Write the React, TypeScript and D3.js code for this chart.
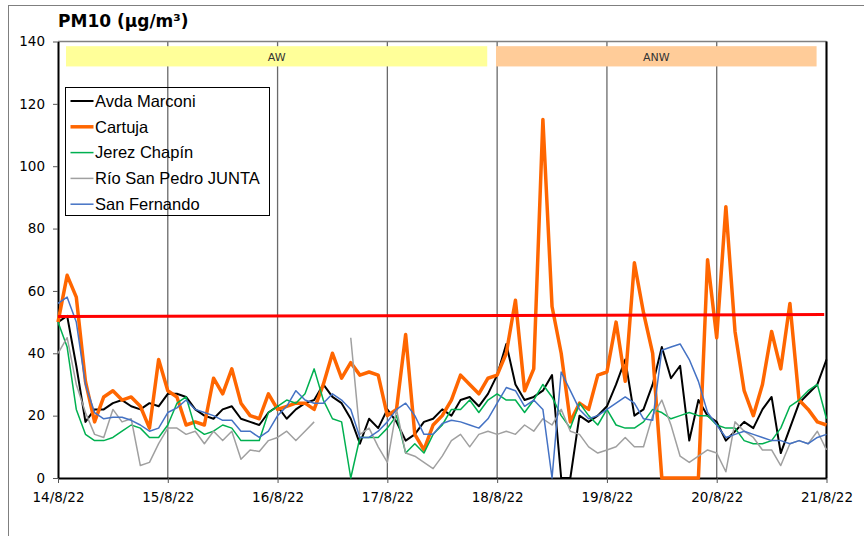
import * as d3 from "d3";
import { useEffect, useRef } from "react";

// 2-hourly values, 14/8/22 00:00 -> 21/8/22 00:00 (85 points)
const avdaMarconi = [
  50, 52, 36, 18, 22, 22, 24, 25, 23, 22, 24, 23,
  27, 27, 26, 22, 20, 19, 22, 23, 19, 18, 17, 21,
  23, 19, 22, 24, 25, 30, 26, 24, 19, 11, 19, 16,
  22, 18, 12, 14, 18, 19, 22, 20, 25, 26, 23, 27,
  33, 43, 30, 25, 26, 28, 33, 0, 0, 20, 18, 20,
  23, 30, 38, 20, 22, 30, 42, 32, 36, 12, 25, 20,
  18, 12, 15, 18, 16, 22, 26, 8, 16, 24, 27, 30,
  38,
];
const cartuja = [
  50, 65, 58, 31, 18, 26, 28, 25, 26, 23, 16, 38,
  28, 26, 17, 18, 17, 32, 27, 35, 24, 20, 19, 27,
  22, 23, 24, 24, 22, 30, 40, 32, 37, 33, 34, 33,
  20, 22, 46, 14, 9, 17, 20, 25, 33, 30, 27, 32,
  33, 40, 57, 28, 35, 115, 55, 40, 18, 24, 22, 33,
  34, 50, 31, 69, 53, 40, 0, 0, 0, 0, 0, 70,
  45, 87, 47, 28, 20, 30, 47, 35, 56, 25, 22, 18,
  17,
];
const jerezChapin = [
  50, 42, 22, 14, 12, 12, 13, 15, 17, 16, 13, 13,
  17, 24, 26, 16, 14, 15, 17, 16, 12, 12, 12, 21,
  23, 25, 24, 27, 35, 25, 19, 18, 0, 13, 13, 13,
  16, 20, 8, 11, 8, 14, 17, 22, 22, 25, 21, 25,
  27, 25, 25, 21, 25, 30, 26, 20, 16, 24, 20, 17,
  22, 17, 16, 16, 18, 22, 21, 19, 20, 21, 20, 20,
  17, 16, 16, 12, 11, 11, 12, 16, 23, 25, 28, 30,
  19,
];
const rioSanPedro = [
  40, 45, 30, 21, 14, 13, 22, 18, 19, 4, 5, 11,
  16, 16, 14, 15, 11, 15, 12, 15, 6, 9, 8.5, 12,
  13, 15, 12, 15, 18, null, null, null, 45, 14, 16, 10,
  5, 22, 8, 7, 5, 3, 7, 12, 14, 10, 14, 15,
  14, 15, 14, 17, 15, 19, 17, 22, 15, 14, 10, 8,
  9, 10, 13, 10, 10, 20, 25, 17, 7, 5, 7, 9,
  8, 2, 18, 15, 13, 9, 9, 4, 11, 12, 11, 15,
  9,
];
const sanFernando = [
  56, 58, 50, 30, 21, 19, 19.5, 19.5, 18.5, 17, 15, 16,
  21, 22.5, 25, 22, 21, 20, 18.5, 18.5, 15, 15, 13, 15,
  20, 23, 28, 25, 24, 24, 27, 25, 22, 13, 13, 15,
  18, 22, 24, 20, 14, 14, 17.5, 18.5, 18, 17, 16, 19,
  24, 29, 28, 23, 25, 22, 0, 34, 28, 22, 19, 20,
  22, 24, 26, 24, 19, 18.5, 41, 42, 43, 38, 31, 21,
  17, 13, 14, 15, 14, 13, 12, 12, 11, 12, 11, 13,
  14,
];
const limitValues = [51.8, 52.4];

const seriesNames = ["Avda Marconi", "Cartuja", "Jerez Chapín", "Río San Pedro JUNTA", "San Fernando"];
const seriesValues = [avdaMarconi, cartuja, jerezChapin, rioSanPedro, sanFernando];
const seriesColors = ["#000000", "#FF6600", "#00B050", "#A0A0A0", "#4472C4"];
const seriesWidths = [2, 3.5, 1.5, 1.5, 1.5];

const yTicks = [0, 20, 40, 60, 80, 100, 120, 140];
const periodLabels = ["AW", "ANW"];
const periodStarts = [new Date(2022, 7, 14, 1, 45), new Date(2022, 7, 17, 23, 45)];
const periodEnds = [new Date(2022, 7, 17, 21, 50), new Date(2022, 7, 20, 21, 50)];
const periodColors = ["#FFFF99", "#FFCC99"];

const start = new Date(2022, 7, 14);
const end = new Date(2022, 7, 21);
const limitEnd = new Date(2022, 7, 20, 23, 30);
const stepHours = 2;

export default function App() {
  const svgRef = useRef<SVGSVGElement | null>(null);

  useEffect(() => {
    const svg = d3.select(svgRef.current);
    svg.selectAll("*").remove();

    const width = 864;
    const height = 536;
    const margin = { top: 41.5, right: 37.5, bottom: 58, left: 58 };
    const tickFont = "DejaVu Sans, Verdana, sans-serif";

    const x = d3.scaleTime().domain([start, end]).range([margin.left, width - margin.right]);
    const y = d3.scaleLinear().domain([0, 140]).range([height - margin.bottom, margin.top]);

    // outer chart frame
    svg.append("rect")
      .attr("x", 8.5).attr("y", 5.5)
      .attr("width", 900).attr("height", 600)
      .attr("fill", "white").attr("stroke", "#7f7f7f").attr("stroke-width", 1);

    // title
    svg.append("text")
      .attr("x", margin.left).attr("y", 27)
      .attr("font-family", tickFont).attr("font-weight", "bold").attr("font-size", 17)
      .text("PM10 (µg/m³)");

    // vertical day gridlines
    const days = d3.timeDay.range(d3.timeDay.offset(start, 1), d3.timeDay.offset(end, 1));
    svg.append("g").selectAll("line").data(days).join("line")
      .attr("x1", (d) => x(d)).attr("x2", (d) => x(d))
      .attr("y1", y(140)).attr("y2", y(0))
      .attr("stroke", "#6a6a6a").attr("stroke-width", 1.3);

    // top border of the plot
    svg.append("line")
      .attr("x1", margin.left).attr("x2", width - margin.right)
      .attr("y1", y(140)).attr("y2", y(140))
      .attr("stroke", "#808080").attr("stroke-width", 1.3);

    // period bands
    const bands = svg.append("g");
    periodLabels.forEach((label, i) => {
      const x0 = x(periodStarts[i]);
      const x1 = x(periodEnds[i]);
      bands.append("rect")
        .attr("x", x0).attr("y", y(138.5))
        .attr("width", x1 - x0).attr("height", y(132) - y(138.5))
        .attr("fill", periodColors[i]);
      bands.append("text")
        .attr("x", (x0 + x1) / 2).attr("y", y(135) + 4)
        .attr("text-anchor", "middle")
        .attr("font-family", tickFont).attr("font-size", 11).attr("fill", "#333")
        .text(label);
    });

    // Y axis
    const yAxis = svg.append("g")
      .attr("transform", `translate(${margin.left},0)`)
      .call(d3.axisLeft(y).tickValues(yTicks).tickSize(5).tickPadding(8).tickSizeOuter(0));
    yAxis.select(".domain").attr("stroke", "#000").attr("stroke-width", 2);
    yAxis.selectAll(".tick line").attr("stroke", "#555");
    yAxis.selectAll("text").attr("font-family", tickFont).attr("font-size", 13.5).attr("fill", "#000");

    // X axis
    const xAxis = svg.append("g")
      .attr("transform", `translate(0,${height - margin.bottom})`)
      .call(
        d3.axisBottom(x)
          .ticks(d3.timeDay.every(1))
          .tickSize(5).tickPadding(9).tickSizeOuter(0)
          .tickFormat(d3.timeFormat("%-d/%-m/%y") as any)
      );
    xAxis.select(".domain").attr("stroke", "#000").attr("stroke-width", 2);
    xAxis.selectAll(".tick line").attr("stroke", "#555");
    xAxis.selectAll("text").attr("font-family", tickFont).attr("font-size", 13.5).attr("fill", "#000");

    // right border
    svg.append("line")
      .attr("x1", x(end)).attr("x2", x(end))
      .attr("y1", y(140)).attr("y2", y(0))
      .attr("stroke", "#000").attr("stroke-width", 2);

    // series lines
    type Pt = { date: Date; value: number | null };
    const line = d3.line<Pt>()
      .defined((d) => d.value != null)
      .x((d) => x(d.date))
      .y((d) => y(d.value as number));

    seriesValues.forEach((vals, i) => {
      const pts: Pt[] = vals.map((v, k) => ({ date: d3.timeHour.offset(start, k * stepHours), value: v }));
      svg.append("path")
        .datum(pts)
        .attr("fill", "none")
        .attr("stroke", seriesColors[i])
        .attr("stroke-width", seriesWidths[i])
        .attr("stroke-linejoin", "round")
        .attr("d", line);
    });

    // limit line
    const limitPts: Pt[] = [
      { date: start, value: limitValues[0] },
      { date: limitEnd, value: limitValues[1] },
    ];
    svg.append("path")
      .datum(limitPts)
      .attr("fill", "none")
      .attr("stroke", "#FF0000")
      .attr("stroke-width", 3)
      .attr("d", line);

    // legend
    const legend = svg.append("g").attr("transform", "translate(65.5,87.5)");
    legend.append("rect")
      .attr("width", 204).attr("height", 128)
      .attr("fill", "none").attr("stroke", "#000").attr("stroke-width", 1);
    seriesNames.forEach((name, i) => {
      const cy = 13.5 + i * 25.8;
      legend.append("line")
        .attr("x1", 5).attr("x2", 28)
        .attr("y1", cy).attr("y2", cy)
        .attr("stroke", seriesColors[i]).attr("stroke-width", seriesWidths[i]);
      legend.append("text")
        .attr("x", 29.5).attr("y", cy + 5.8)
        .attr("font-family", "Liberation Sans, Arial, sans-serif")
        .attr("font-size", 16.5)
        .text(name);
    });
  }, []);

  return (
    <svg
      ref={svgRef}
      width={864}
      height={536}
      style={{ position: "absolute", left: 0, top: 0, background: "white" }}
    ></svg>
  );
}
